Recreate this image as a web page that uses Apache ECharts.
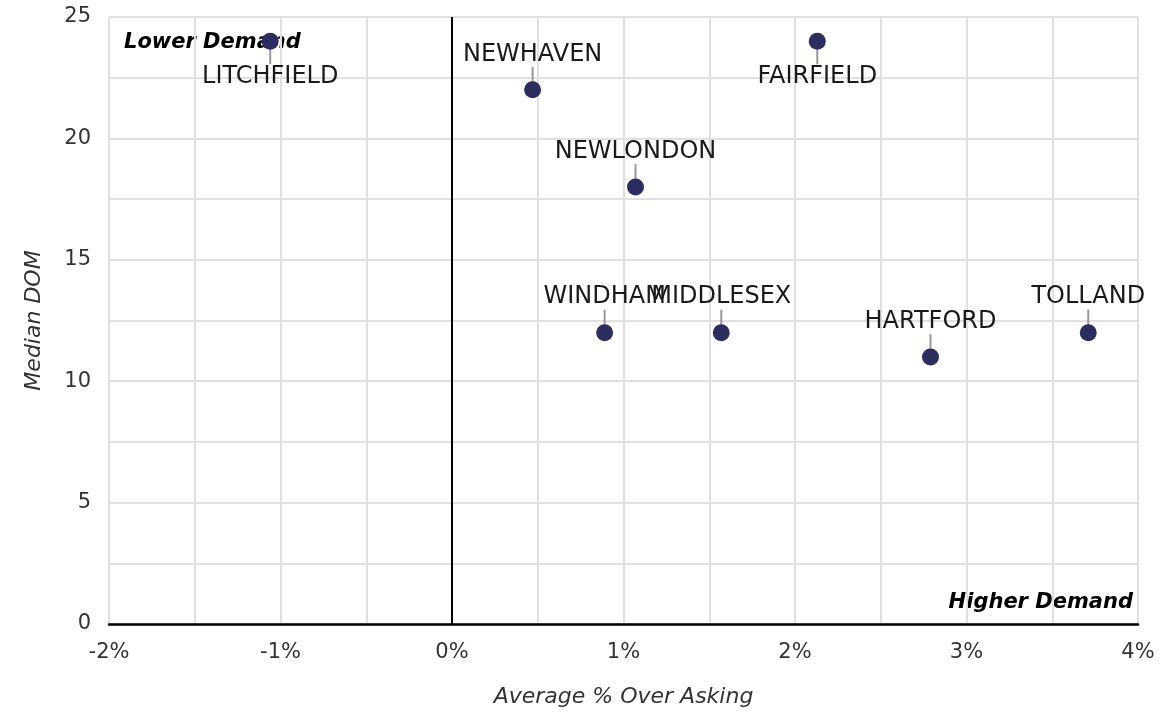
<!DOCTYPE html>
<html><head><meta charset="utf-8">
<script src="https://cdn.jsdelivr.net/npm/echarts@6/dist/echarts.min.js"></script>
<style>html,body{margin:0;padding:0;background:#fff}#c{width:1174px;height:714px}</style>
</head><body><div id="c"></div>
<script>
const counties = ['LITCHFIELD','NEWHAVEN','FAIRFIELD','NEWLONDON','WINDHAM','MIDDLESEX','HARTFORD','TOLLAND'];
const overAsking = [-1.06, 0.47, 2.13, 1.07, 0.89, 1.57, 2.79, 3.71];
const medianDom = [24, 22, 24, 18, 12, 12, 11, 12];
const labelBelow = ['LITCHFIELD','FAIRFIELD'];

const FONT = 'DejaVu Sans';
const chart = echarts.init(document.getElementById('c'));
const data = counties.map((n,i)=>({name:n, value:[overAsking[i], medianDom[i]],
  label:{position: labelBelow.includes(n)?'bottom':'top'}}));
const leaderData = counties.map((n,i)=>[overAsking[i], medianDom[i], labelBelow.includes(n)?1:-1]);
chart.setOption({
  animation:false,
  grid:{left:109,right:36,top:17,bottom:90},
  xAxis:{type:'value',min:-2,max:4,interval:0.5,
    name:'Average % Over Asking',nameLocation:'middle',nameGap:62,
    nameTextStyle:{fontFamily:FONT,fontStyle:'italic',fontSize:22,color:'#333'},
    axisLine:{show:true,onZero:false,lineStyle:{color:'#000',width:2.5}},
    axisTick:{show:false},
    axisLabel:{fontFamily:FONT,fontSize:21,color:'#333',margin:18,
      formatter:v=>Number.isInteger(v)?v+'%':''},
    splitLine:{show:true,lineStyle:{color:'#e0e0e0',width:2}}},
  yAxis:{type:'value',min:0,max:25,interval:2.5,
    name:'Median DOM',nameLocation:'middle',nameGap:64,
    nameTextStyle:{fontFamily:FONT,fontStyle:'italic',fontSize:22,color:'#333'},
    axisLine:{show:false},axisTick:{show:false},
    axisLabel:{fontFamily:FONT,fontSize:21,color:'#333',margin:18,
      formatter:v=>(v%5===0)?String(v):''},
    splitLine:{show:true,lineStyle:{color:'#e0e0e0',width:2}}},
  series:[
    {type:'custom',silent:true,z:2,data:leaderData,
     renderItem:(params,api)=>{
       const p=api.coord([api.value(0),api.value(1)]);
       const d=api.value(2);
       return {type:'line',shape:{x1:p[0],y1:p[1]+d*7,x2:p[0],y2:p[1]+d*23},
         style:{stroke:'#999',lineWidth:2}};
     }},
    {type:'scatter',symbolSize:17,itemStyle:{color:'#2b2d5e',opacity:1},
    data:data,
    label:{show:true,formatter:'{b}',fontFamily:FONT,fontSize:24,color:'#1a1a1a',distance:15},
    markLine:{silent:true,symbol:'none',label:{show:false},
      lineStyle:{color:'#000',width:2,type:'solid'},data:[{xAxis:0}]},
    z:3}],
  graphic:[
    {type:'text',left:124,top:32,style:{text:'Lower Demand',font:'italic bold 21px "DejaVu Sans"',fill:'#000'}},
    {type:'text',right:41,top:592,style:{text:'Higher Demand',font:'italic bold 21px "DejaVu Sans"',fill:'#000'}}
  ]
});
</script></body></html>
